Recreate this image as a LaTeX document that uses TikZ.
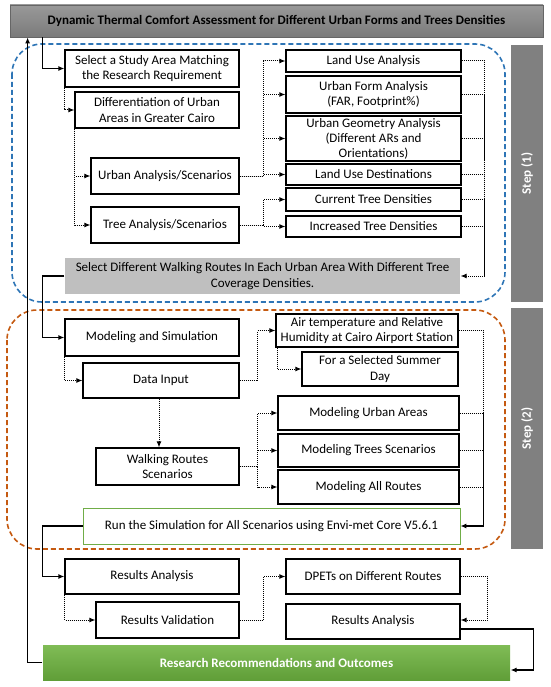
\documentclass[tikz,border=0pt]{standalone}
\usepackage{fontspec}
\setmainfont{Carlito}
\usepackage{tikz}
\usetikzlibrary{calc}
\usetikzlibrary{arrows.meta}
\definecolor{stepblue}{RGB}{46,117,182}
\definecolor{steporange}{RGB}{197,90,17}
\definecolor{simgreen}{RGB}{112,173,71}
\definecolor{greentop}{RGB}{128,188,86}
\definecolor{greenbot}{RGB}{96,158,56}
\tikzstyle{lsnode} = [rectangle, 
draw=black, 
line width=1.2pt, 
fill=white, 
inner sep=0pt, 
align=center, 
font=\fontsize{13}{15.5}\selectfont]
\tikzstyle{stepbar} = [rectangle, 
fill=black!50, 
inner sep=0pt, 
minimum width=32pt, 
text=white, 
font=\fontsize{13}{15}\selectfont\bfseries]
\tikzstyle{arrow} = [line width=1.2pt,-{Latex[length=6pt,width=5pt]}]
\tikzstyle{dotline} = [line width=1pt, dash pattern=on 1pt off 1pt]
\tikzstyle{dotarrow} = [dotline,-{Latex[length=6pt,width=5pt]}]
\tikzstyle{region} = [line width=1.6pt, dash pattern=on 5pt off 3pt, rounded corners=30pt]

\begin{document}
\begin{tikzpicture}[x=1pt, y=-1pt]
    \useasboundingbox (0,0) rectangle (550,687);

    % Step frames
    \draw [region, stepblue] (12,44) rectangle (505,302);
    \draw [region, steporange] (7,310) rectangle (505,549);
    \node (step1) [stepbar, minimum height=257pt] at (527,173.5) {};
    \node [rotate=90, text=white, font=\fontsize{13}{15}\selectfont\bfseries] at (step1) {Step (1)};
    \node (step2) [stepbar, minimum height=241pt] at (527,428.5) {};
    \node [rotate=90, text=white, font=\fontsize{13}{15}\selectfont\bfseries] at (step2) {Step (2)};

    % Title
    \node (title) [lsnode, draw=black!60, line width=0.8pt, top color=black!40, bottom color=black!52, minimum width=533pt, minimum height=32pt, font=\fontsize{13}{15}\selectfont\bfseries] at (276.5,21) {Dynamic Thermal Comfort Assessment for Different Urban Forms and Trees Densities};

    % Step (1)
    \node (study) [lsnode, minimum width=174pt, minimum height=37pt] at (152,68.5) {Select a Study Area Matching\\the Research Requirement};
    \node (diff) [lsnode, minimum width=164pt, minimum height=36pt] at (157,110) {Differentiation of Urban\\Areas in Greater Cairo};
    \node (urban) [lsnode, minimum width=148pt, minimum height=36pt] at (165,176) {Urban Analysis/Scenarios};
    \node (tree) [lsnode, minimum width=148pt, minimum height=36pt] at (165,225) {Tree Analysis/Scenarios};
    \node (landuse) [lsnode, minimum width=175pt, minimum height=22pt] at (373.5,61) {Land Use Analysis};
    \node (form) [lsnode, minimum width=175pt, minimum height=37pt] at (373.5,94.5) {Urban Form Analysis\\(FAR, Footprint\%)};
    \node (geom) [lsnode, minimum width=175pt, minimum height=45pt, font=\fontsize{13}{15}\selectfont] at (373.5,138.5) {Urban Geometry Analysis\\(Different ARs and\\Orientations)};
    \node (dest) [lsnode, minimum width=175pt, minimum height=21pt] at (373.5,174.5) {Land Use Destinations};
    \node (curtree) [lsnode, minimum width=175pt, minimum height=23pt] at (373.5,199.5) {Current Tree Densities};
    \node (inctree) [lsnode, minimum width=175pt, minimum height=21pt] at (373.5,226.5) {Increased Tree Densities};
    \node (routes) [lsnode, draw=none, fill=black!25, minimum width=395pt, minimum height=36pt] at (262.5,276) {Select Different Walking Routes In Each Urban Area With Different Tree\\Coverage Densities.};

    % Step (2)
    \node (model) [lsnode, minimum width=174pt, minimum height=37pt] at (152,337.5) {Modeling and Simulation};
    \node (datain) [lsnode, minimum width=156pt, minimum height=35pt] at (161,380.5) {Data Input};
    \node (airtemp) [lsnode, minimum width=182pt, minimum height=33pt] at (367,330.5) {Air temperature and Relative\\Humidity at Cairo Airport Station};
    \node (summer) [lsnode, minimum width=156pt, minimum height=34pt] at (380,369) {For a Selected Summer\\Day};
    \node (walk) [lsnode, minimum width=143pt, minimum height=37pt] at (167.5,466.5) {Walking Routes\\Scenarios};
    \node (modurban) [lsnode, minimum width=181pt, minimum height=34pt] at (368.5,413) {Modeling Urban Areas};
    \node (modtrees) [lsnode, minimum width=181pt, minimum height=33pt] at (368.5,450.5) {Modeling Trees Scenarios};
    \node (modroutes) [lsnode, minimum width=181pt, minimum height=34pt] at (368.5,487) {Modeling All Routes};
    \node (runsim) [lsnode, draw=simgreen, line width=0.8pt, minimum width=377pt, minimum height=36pt] at (271.5,526) {Run the Simulation for All Scenarios using Envi-met Core V5.6.1};

    % Results
    \node (resan) [lsnode, minimum width=174pt, minimum height=35pt] at (152,576.5) {Results Analysis};
    \node (resval) [lsnode, minimum width=143pt, minimum height=36pt] at (167.5,620) {Results Validation};
    \node (dpets) [lsnode, minimum width=174pt, minimum height=35pt] at (373,576.5) {DPETs on Different Routes};
    \node (resan2) [lsnode, minimum width=174pt, minimum height=35pt] at (373,621.5) {Results Analysis};
    \node (recom) [lsnode, draw=none, top color=greentop, bottom color=greenbot, text=white, minimum width=467pt, minimum height=35pt, font=\fontsize{13}{15}\selectfont\bfseries] at (276.5,662.5) {Research Recommendations and Outcomes};

    % Main flow
    \draw [arrow] ($(title.south west)+(33,0)$) |- (study.west);
    \draw [arrow] (recom.west) -| ($(title.south west)+(18,0)$);
    \draw [arrow] (routes.west) -- ++(-22,0) |- (model.west);
    \draw [arrow] (runsim.west) -- ++(-40,0) |- (resan.west);
    \draw [arrow] ($(resan2.east)+(0,7.5)$) -- ++(73,0) |- ($(recom.east)+(0,7.5)$);

    % Step (1) links
    \draw [dotarrow] ($(study.south west)+(0.5,0)$) |- (diff.west);
    \draw [dotarrow] ($(diff.south west)+(0.5,0)$) |- (urban.west);
    \draw [dotarrow] ($(diff.south west)+(0.5,0)$) |- (tree.west);
    \foreach \n in {landuse, form, geom, dest}
        \draw [dotarrow] (urban.east) -- ++(24,0) |- (\n.west);
    \foreach \n in {curtree, inctree}
        \draw [dotarrow] (tree.east) -- ++(24,0) |- (\n.west);
    \coordinate (rbend) at ($(routes.east)+(24,0)$);
    \foreach \n in {landuse, form, geom, dest, curtree, inctree}
        \draw [dotline] (\n.east) -| (rbend);
    \draw [dotarrow] (rbend) -- (routes.east);

    % Step (2) links
    \draw [dotarrow] ($(model.south west)+(0.5,0)$) |- (datain.west);
    \draw [dotarrow] (datain.east) -- ++(18,0) |- (airtemp.west);
    \draw [dotarrow] ($(airtemp.south west)+(2,0)$) |- (summer.west);
    \coordinate (dbot) at ($(datain.south)+(-2,0)$);
    \draw [dotarrow] (dbot) -- (dbot |- walk.north);
    \foreach \n in {modurban, modtrees, modroutes}
        \draw [dotarrow] (walk.east) -- ++(18,0) |- (\n.west);
    \coordinate (mbend) at ($(modroutes.east)+(24,0)$);
    \foreach \n in {airtemp, modurban, modtrees, modroutes}
        \draw [dotline] (\n.east) -| (mbend);
    \draw [arrow] (mbend) |- (runsim.east);

    % Results links
    \draw [dotarrow] ($(resan.south west)+(0.5,0)$) |- (resval.west);
    \draw [dotarrow] (resval.east) -- ++(24,0) |- (dpets.west);
    \draw [dotarrow] (dpets.east) -- ++(27,0) |- ($(resan2.east)+(0,-1.5)$);
\end{tikzpicture}
\end{document}
